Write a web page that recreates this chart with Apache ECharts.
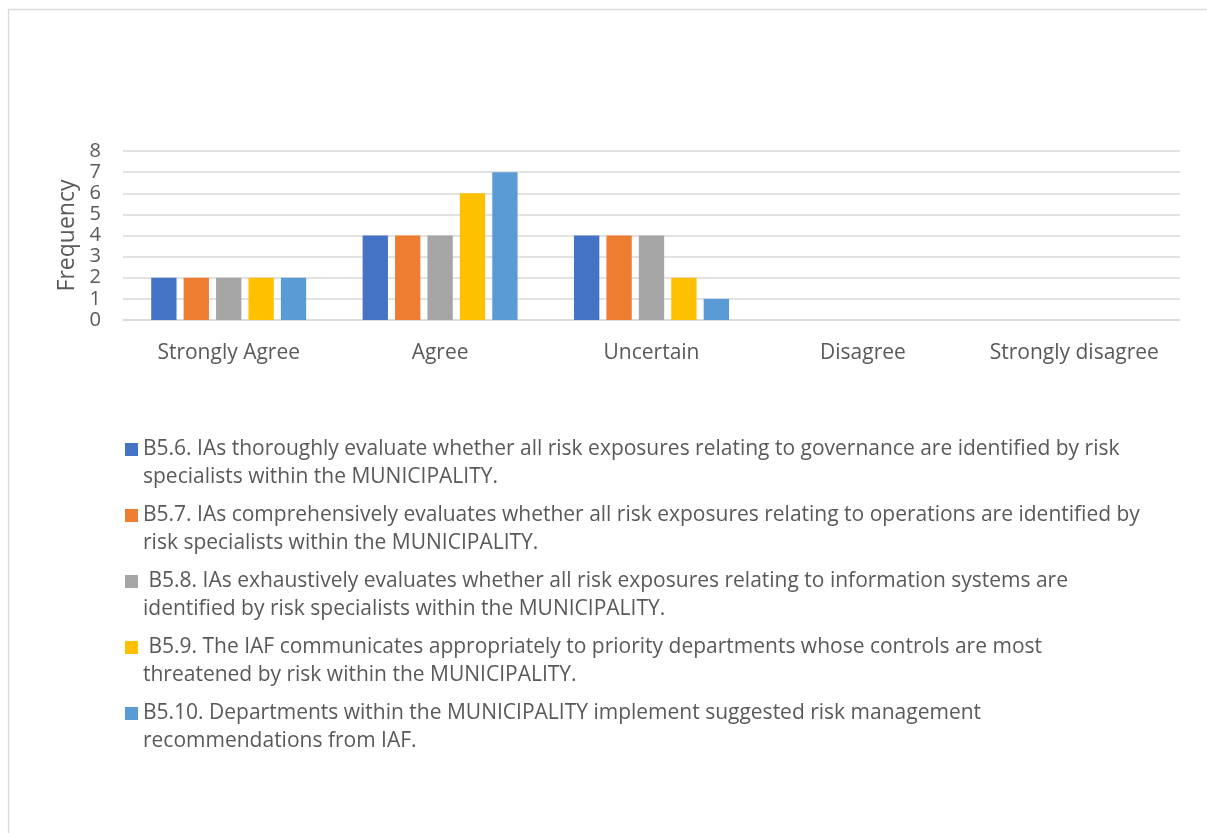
<!DOCTYPE html>
<html>
<head>
<meta charset="utf-8">
<script src="https://cdn.jsdelivr.net/npm/echarts@6/dist/echarts.min.js"></script>
<style>
  html, body { margin: 0; padding: 0; background: #fff; }
  #chart { width: 1207px; height: 833px; }
</style>
</head>
<body>
<div id="chart"></div>
<script>
// Response categories on the x axis
const categories = ['Strongly Agree', 'Agree', 'Uncertain', 'Disagree', 'Strongly disagree'];

// Legend statements, split into their two printed lines
const statementLines = [
  ['B5.6. IAs thoroughly evaluate whether all risk exposures relating to governance are identified by risk', 'specialists within the MUNICIPALITY.'],
  ['B5.7. IAs comprehensively evaluates whether all risk exposures relating to operations are identified by', 'risk specialists within the MUNICIPALITY.'],
  [' B5.8. IAs exhaustively evaluates whether all risk exposures relating to information systems are', 'identified by risk specialists within the MUNICIPALITY.'],
  [' B5.9. The IAF communicates appropriately to priority departments whose controls are most', 'threatened by risk within the MUNICIPALITY.'],
  ['B5.10. Departments within the MUNICIPALITY implement suggested risk management', 'recommendations from IAF.']
];

// Frequencies per statement, one value per category
const b56 = [2, 4, 4, 0, 0];
const b57 = [2, 4, 4, 0, 0];
const b58 = [2, 4, 4, 0, 0];
const b59 = [2, 6, 2, 0, 0];
const b510 = [2, 7, 1, 0, 0];

const yTicks = [0, 1, 2, 3, 4, 5, 6, 7, 8];
const colors = ['#4472C4', '#ED7D31', '#A5A5A5', '#FFC000', '#5B9BD5'];

const seriesValues = [b56, b57, b58, b59, b510];
const names = statementLines.map(l => l.join(' '));

const FONT = 'Open Sans';
const TEXT = '#595959';
const FS = 21;

const rich = {
  t: { fontFamily: FONT, fontSize: FS, color: TEXT, lineHeight: 28 },
  ind: { width: 18, height: 13, lineHeight: 28 }
};
colors.forEach((c, i) => {
  rich['m' + i] = { width: 13, height: 13, backgroundColor: c, lineHeight: 28 };
  rich['g' + i] = { width: 5, height: 13, lineHeight: 28 };
});

const chart = echarts.init(document.getElementById('chart'), null, { renderer: 'canvas' });

chart.setOption({
  animation: false,
  color: colors,
  graphic: [{
    type: 'rect',
    shape: { x: 8.5, y: 9.5, width: 1400, height: 1000 },
    style: { fill: 'none', stroke: '#d9d9d9', lineWidth: 1.3 },
    silent: true,
    z: -10
  }],
  grid: { left: 123, right: 27, top: 151, bottom: 513, containLabel: false },
  xAxis: {
    type: 'category',
    data: categories,
    axisLine: { show: true, lineStyle: { color: '#d9d9d9', width: 1.5 } },
    axisTick: { show: false },
    axisLabel: { interval: 0, fontFamily: FONT, fontSize: FS, color: TEXT, margin: 23 }
  },
  yAxis: {
    type: 'value',
    min: yTicks[0],
    max: yTicks[yTicks.length - 1],
    interval: 1,
    name: 'Frequency',
    nameLocation: 'middle',
    nameGap: 44,
    nameTextStyle: { fontFamily: FONT, fontSize: 23, color: TEXT },
    axisLine: { show: false },
    axisTick: { show: false },
    axisLabel: { fontFamily: FONT, fontSize: 20, color: TEXT, margin: 22 },
    splitLine: { lineStyle: { color: '#d9d9d9', width: 1.5 } }
  },
  legend: {
    orient: 'vertical',
    left: 115,
    top: 434,
    itemGap: 17,
    itemWidth: 0,
    itemHeight: 0,
    icon: 'rect',
    itemStyle: { opacity: 0 },
    data: names,
    formatter: function (name) {
      const i = names.indexOf(name);
      const l = statementLines[i];
      return '{m' + i + '|}{g' + i + '|}{t|' + l[0] + '}\n{ind|}{t|' + l[1] + '}';
    },
    textStyle: { rich: rich }
  },
  series: seriesValues.map((vals, i) => ({
    name: names[i],
    type: 'bar',
    data: vals,
    barGap: '28%',
    barCategoryGap: '26.7%',
    itemStyle: { color: colors[i] }
  }))
});
</script>
</body>
</html>
